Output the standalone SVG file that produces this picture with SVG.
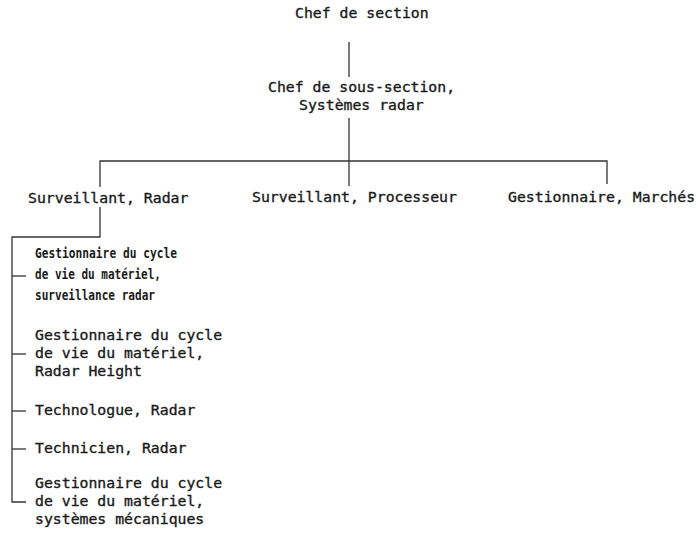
<svg xmlns="http://www.w3.org/2000/svg" width="697" height="534" viewBox="0 0 697 534">
<style>
.t{font-family:"DejaVu Sans Mono","Liberation Mono",monospace;font-size:14.8px;fill:#1a1a1a;stroke:#1a1a1a;stroke-width:0.35}
.b{font-family:"DejaVu Sans Mono","Liberation Mono",monospace;font-size:13.2px;font-weight:bold;fill:#1a1a1a}
.c{stroke:#333;stroke-width:1.3;fill:none}
</style>
<rect width="697" height="534" fill="#fff"/>
<g id="connectors" class="c">
<line x1="349" y1="42" x2="349" y2="77"/>
<line x1="349" y1="118" x2="349" y2="186"/>
<polyline points="100,187 100,161 607,161 607,184"/>
<polyline points="100,207 100,237 12,237 12,502 26,502"/>
<line x1="12" y1="276" x2="26" y2="276"/>
<line x1="12" y1="354" x2="26" y2="354"/>
<line x1="12" y1="411" x2="26" y2="411"/>
<line x1="12" y1="449" x2="26" y2="449"/>
</g>
<g id="chef-section"><text class="t" x="295" y="18">Chef de section</text></g>
<g id="chef-sous-section"><text class="t" x="268" y="92">Chef de sous-section,</text><text class="t" x="299" y="110">Systèmes radar</text></g>
<g id="surveillant-radar"><text class="t" x="28" y="203">Surveillant, Radar</text></g>
<g id="surveillant-processeur"><text class="t" x="252" y="202">Surveillant, Processeur</text></g>
<g id="gestionnaire-marches"><text class="t" x="508" y="202">Gestionnaire, Marchés</text></g>
<g id="gcvm-surveillance"><text class="b" x="35" y="258" textLength="142" lengthAdjust="spacingAndGlyphs">Gestionnaire du cycle</text><text class="b" x="35" y="279" textLength="126" lengthAdjust="spacingAndGlyphs">de vie du matériel,</text><text class="b" x="35" y="300" textLength="120" lengthAdjust="spacingAndGlyphs">surveillance radar</text></g>
<g id="gcvm-height"><text class="t" x="35" y="340">Gestionnaire du cycle</text><text class="t" x="35" y="358">de vie du matériel,</text><text class="t" x="35" y="376">Radar Height</text></g>
<g id="technologue"><text class="t" x="35" y="415">Technologue, Radar</text></g>
<g id="technicien"><text class="t" x="35" y="453">Technicien, Radar</text></g>
<g id="gcvm-mecaniques"><text class="t" x="35" y="488">Gestionnaire du cycle</text><text class="t" x="35" y="506">de vie du matériel,</text><text class="t" x="35" y="524">systèmes mécaniques</text></g>
</svg>
